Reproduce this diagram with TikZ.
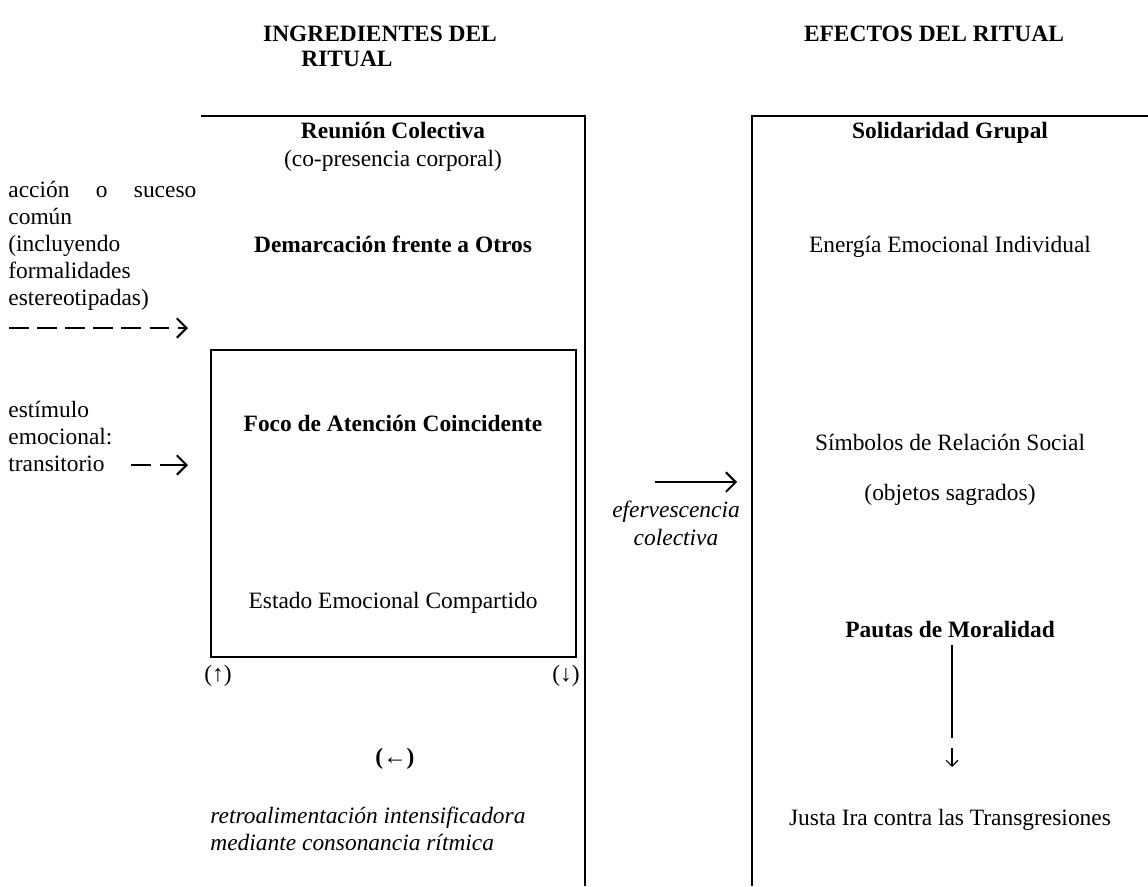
\documentclass[tikz,border=0pt]{standalone}
\usepackage{fontspec}
\setmainfont{Liberation Serif}
\usepackage{tikz}
\usetikzlibrary{arrows.meta,positioning,calc}

\newcommand{\ritsize}{\fontsize{12}{13.8}\selectfont}

\begin{document}
\begin{tikzpicture}[
    x=0.018cm, y=-0.018cm,
    txt/.style={anchor=base, inner sep=0pt, font=\ritsize},
    bold/.style={txt, font=\ritsize\bfseries},
    slanted/.style={txt, font=\ritsize\itshape},
    side/.style={anchor=north west, inner sep=0pt, font=\ritsize, text width=96.3pt, align=left},
    frame/.style={line width=1pt},
    arrow/.style={-{Straight Barb[length=5pt,width=10pt,line width=1pt]}, line width=1pt}
]
    \useasboundingbox (0,0) rectangle (1148,886);

    % Headings
    \node[bold] (ingA) at (380,42) {INGREDIENTES DEL};
    \node[bold] (ingB) at (347,67) {RITUAL};
    \node[bold] (efe) at (934,42) {EFECTOS DEL RITUAL};

    % Frames
    \draw[frame] (201,116) -- (585,116) -- (585,886);
    \draw[frame] (1148,116) -- (752,116) -- (752,886);
    \draw[frame] (211,350) rectangle (576,657);

    % Ingredients
    \node[bold] (reunion) at (393,139) {Reunión Colectiva};
    \node[txt] (copres) at (393,167) {(co-presencia corporal)};
    \node[bold] (demarc) at (393,252) {Demarcación frente a Otros};
    \node[bold] (foco) at (393,431) {Foco de Atención Coincidente};
    \node[txt] (estado) at (393,608) {Estado Emocional Compartido};
    \node[txt] (up) at (218,681) {(↑)};
    \node[txt] (down) at (566,681) {(↓)};
    \node[bold] (back) at (395,764) {(←)};
    \node[slanted, anchor=base west] (retro) at (210,823) {retroalimentación intensificadora};
    \node[slanted, anchor=base west] (ritmo) at (210,850) {mediante consonancia rítmica};

    % Inputs on the left
    \node[side] (accion) at (8,181) {acción\hfill o\hfill suceso\\ común\\ (incluyendo\\ formalidades\\ estereotipadas)};
    \coordinate (dashA) at (9,328);
    \coordinate (dashB) at (188,328);
    \draw[arrow, dash pattern=on 10pt off 4.4pt] (dashA) -- (dashB);

    \node[side] (estimulo) at (8,401) {estímulo\\ emocional:\\ transitorio};
    \coordinate (trA) at (131,465);
    \coordinate (trB) at (151,465);
    \coordinate (trC) at (160,465);
    \coordinate (trD) at (188,465);
    \draw[line width=1pt] (trA) -- (trB);
    \draw[arrow] (trC) -- (trD);

    % Middle
    \coordinate (midA) at (655,482);
    \coordinate (midB) at (737,482);
    \draw[arrow] (midA) -- (midB);
    \node[slanted] (eferv) at (676,517) {efervescencia};
    \node[slanted] (colect) at (676,545) {colectiva};

    % Effects
    \node[bold] (solid) at (950,139) {Solidaridad Grupal};
    \node[txt] (energia) at (950,252) {Energía Emocional Individual};
    \node[txt] (simbolos) at (950,450) {Símbolos de Relación Social};
    \node[txt] (objetos) at (950,500) {(objetos sagrados)};
    \node[bold] (pautas) at (950,637) {Pautas de Moralidad};
    \node[txt] (ira) at (950,825) {Justa Ira contra las Transgresiones};
    \coordinate (pA) at (952,645);
    \coordinate (pB) at (952,738);
    \coordinate (pC) at (952,748);
    \coordinate (pD) at (952,767);
    \draw[line width=1.3pt] (pA) -- (pB);
    \draw[-{Straight Barb[length=3pt,width=6pt]}, line width=0.6pt] (pC) -- (pD);
\end{tikzpicture}
\end{document}
